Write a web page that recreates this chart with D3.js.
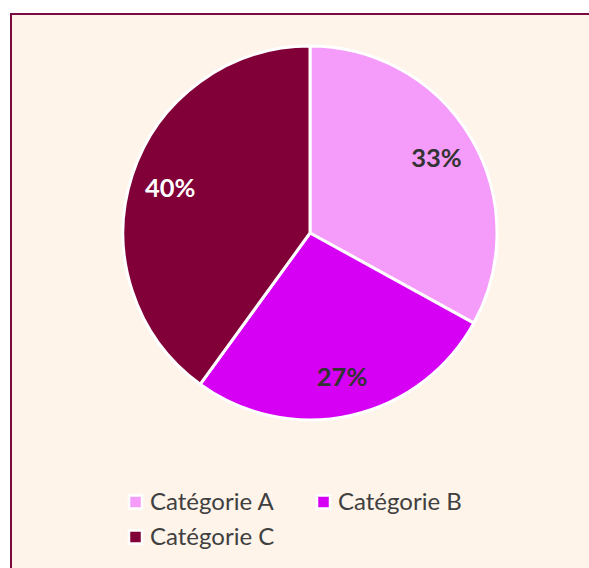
<!DOCTYPE html>
<html>
<head>
<meta charset="utf-8">
<script src="https://cdn.jsdelivr.net/npm/d3@7"></script>
<style>
html,body{margin:0;padding:0;background:#ffffff;}
svg{display:block;}
</style>
</head>
<body>
<svg id="chart" width="589" height="568"></svg>
<script>
const categories = ["Catégorie A", "Catégorie B", "Catégorie C"];
const values = [33, 27, 40];
const labels = ["33%", "27%", "40%"];
const colors = ["#F59CFA", "#D600F5", "#800037"];
const labelColors = ["#333333", "#333333", "#ffffff"];

const svg = d3.select("#chart");

svg.append("rect")
  .attr("x", 11).attr("y", 14)
  .attr("width", 640).attr("height", 640)
  .attr("fill", "#FEF4EA")
  .attr("stroke", "#7a0a40")
  .attr("stroke-width", 2);

const cx = 310, cy = 233, R = 187;
const pie = d3.pie().sort(null).value(d => d)(values);
const arc = d3.arc().innerRadius(0).outerRadius(R);
const labelArc = d3.arc().innerRadius(147).outerRadius(147);

const g = svg.append("g").attr("transform", `translate(${cx},${cy})`);
g.selectAll("path").data(pie).join("path")
  .attr("d", arc)
  .attr("fill", (d, i) => colors[i])
  .attr("stroke", "#ffffff")
  .attr("stroke-width", 3)
  .attr("stroke-linejoin", "round");

g.selectAll("text.lbl").data(pie).join("text")
  .attr("class", "lbl")
  .attr("transform", d => `translate(${labelArc.centroid(d)})`)
  .attr("text-anchor", "middle")
  .attr("dy", "0.36em")
  .attr("font-family", "Lato, 'Open Sans', sans-serif")
  .attr("font-weight", "bold")
  .attr("font-size", 25.5)
  .attr("fill", (d, i) => labelColors[i])
  .text((d, i) => labels[i]);

const legendPos = [[135.5, 502], [323.5, 502], [135.5, 537]];
const lg = svg.append("g");
categories.forEach((c, i) => {
  const [x, y] = legendPos[i];
  lg.append("rect")
    .attr("x", x - 6.5).attr("y", y - 6.5)
    .attr("width", 13).attr("height", 13)
    .attr("fill", colors[i])
    .attr("stroke", "#ffffff")
    .attr("stroke-width", 2.5);
  lg.append("text")
    .attr("x", x + 14.5).attr("y", y + 8)
    .attr("font-family", "Lato, 'Open Sans', sans-serif")
    .attr("font-size", 24)
    .attr("fill", "#404040")
    .text(c);
});
</script>
</body>
</html>
